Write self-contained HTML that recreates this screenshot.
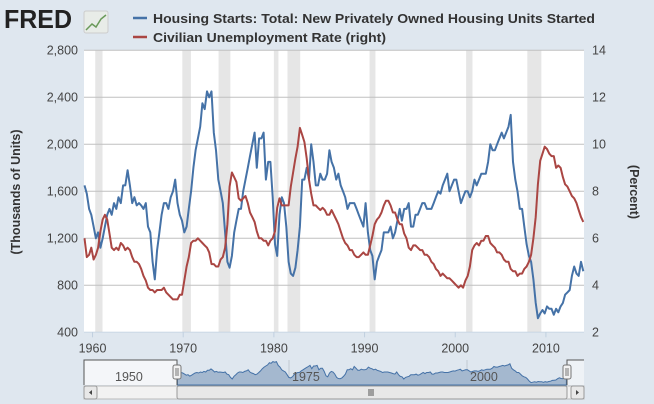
<!DOCTYPE html>
<html><head><meta charset="utf-8"><style>
body{margin:0;background:#dfe7ef;}
svg{display:block;font-family:"Liberation Sans",sans-serif;}
</style></head><body>
<svg id="c" width="654" height="404" viewBox="0 0 654 404">
<rect x="0" y="0" width="654" height="404" fill="#dfe7ef"/>
<g>
<text x="4" y="28" font-size="26" font-weight="bold" fill="#222" textLength="68" lengthAdjust="spacingAndGlyphs">FRED</text>
<rect x="84" y="11" width="24" height="22" rx="2" fill="#e8ece8" stroke="#ccc"/>
<polyline points="86,30 92,24 96,27 101,19 106,15" fill="none" stroke="#6a9a5a" stroke-width="1.5"/>
</g>
<g>
<g><line x1="133" y1="18" x2="147" y2="18" stroke="#4572a7" stroke-width="2.5"/><text x="153" y="23" font-size="13" font-weight="bold" fill="#333" textLength="442" lengthAdjust="spacingAndGlyphs">Housing Starts: Total: New Privately Owned Housing Units Started</text></g>
<g><line x1="133" y1="37" x2="147" y2="37" stroke="#aa4643" stroke-width="2.5"/><text x="153" y="42" font-size="13" font-weight="bold" fill="#333" textLength="233" lengthAdjust="spacingAndGlyphs">Civilian Unemployment Rate (right)</text></g>
</g>
<rect x="84" y="50" width="500" height="283" fill="#fff"/>
<g id="rec"></g>
<g id="grid"></g>
<g id="series"></g>
<g id="axes"></g>
<text transform="translate(20,192) rotate(-90)" text-anchor="middle" font-size="12.5" font-weight="bold" fill="#333">(Thousands of Units)</text>
<text transform="translate(630,192) rotate(90)" text-anchor="middle" font-size="12.5" font-weight="bold" fill="#333">(Percent)</text>
<g id="nav"></g>
</svg>
<script>
const startYear = 1959;
const housingStarts = [1650,1580,1450,1400, 1300,1200,1250,1120, 1200,1300,1400,1450, 1400,1500,1450,1550, 1500,1650,1650,1780, 1650,1500,1550,1480, 1500,1480,1450,1500, 1300,1250,1000,850, 1100,1250,1400,1500, 1500,1450,1550,1600, 1700,1500,1400,1350, 1250,1300,1450,1600, 1800,1950,2050,2150, 2350,2300,2450,2400, 2450,2100,1950,1700, 1600,1500,1250,1000, 950,1050,1250,1350, 1450,1450,1600,1700, 1800,1900,2000,2100, 1800,2050,2050,2100, 1700,1850,1850,1550, 1150,1050,1400,1550, 1500,1300,1000,900, 880,950,1100,1300, 1700,1700,1800,1700, 2000,1850,1650,1650, 1750,1700,1700,1750, 1950,1850,1800,1700, 1750,1650,1600,1550, 1450,1500,1500,1500, 1450,1400,1350,1300, 1500,1250,1100,1050, 850,1000,1050,1100, 1250,1250,1250,1300, 1200,1250,1350,1450, 1350,1450,1450,1500, 1300,1300,1400,1400, 1450,1500,1500,1450, 1450,1450,1500,1550, 1600,1580,1650,1700, 1750,1600,1650,1700, 1700,1600,1500,1550, 1600,1600,1550,1600, 1700,1650,1700,1750, 1750,1750,1850,2000, 1950,1950,2000,2050, 2100,2050,2100,2150, 2250,1850,1700,1600, 1450,1450,1300,1150, 1050,1000,850,650, 520,560,590,560, 620,600,600,550, 600,570,620,650, 720,740,760,880, 960,900,880,1000, 920];
const unemployment = [6.0,5.2,5.3,5.6, 5.1,5.3,5.6,6.3, 6.8,7.0,6.8,6.2, 5.6,5.5,5.6,5.5, 5.8,5.7,5.5,5.6, 5.5,5.2,5.0,5.0, 4.9,4.7,4.4,4.2, 3.9,3.8,3.8,3.7, 3.8,3.8,3.8,3.9, 3.7,3.6,3.5,3.4, 3.4,3.4,3.6,3.6, 4.2,4.8,5.2,5.8, 5.9,5.9,6.0,5.9, 5.8,5.7,5.6,5.4, 4.9,4.9,4.8,4.8, 5.1,5.2,5.6,6.6, 8.2,8.8,8.6,8.4, 7.7,7.6,7.7,7.8, 7.5,7.1,6.9,6.7, 6.3,6.0,6.0,5.9, 5.9,5.7,5.9,6.0, 6.3,7.3,7.7,7.4, 7.4,7.4,7.4,8.2, 8.8,9.4,9.9,10.7, 10.4,10.1,9.4,8.5, 7.9,7.4,7.4,7.3, 7.2,7.3,7.2,7.0, 7.0,7.2,7.0,6.8, 6.6,6.3,6.0,5.8, 5.7,5.5,5.5,5.3, 5.2,5.2,5.3,5.4, 5.3,5.3,5.7,6.1, 6.6,6.8,6.9,7.1, 7.4,7.6,7.6,7.4, 7.1,7.1,6.8,6.6, 6.6,6.2,6.0,5.6, 5.5,5.7,5.7,5.6, 5.5,5.5,5.3,5.3, 5.2,5.0,4.9,4.7, 4.6,4.4,4.5,4.4, 4.3,4.3,4.2,4.1, 4.0,3.9,4.0,3.9, 4.2,4.4,4.8,5.5, 5.7,5.8,5.7,5.9, 5.9,6.1,6.1,5.8, 5.7,5.6,5.4,5.4, 5.3,5.1,5.0,5.0, 4.7,4.6,4.6,4.4, 4.5,4.5,4.7,4.8, 5.0,5.3,6.0,6.9, 8.3,9.3,9.6,9.9, 9.8,9.6,9.5,9.5, 9.0,9.1,9.0,8.6, 8.3,8.2,8.0,7.8, 7.7,7.5,7.2,6.9, 6.7];
const recessionStart = [1960.3,1969.9,1973.9,1980.0,1981.5,1990.55,2001.2,2007.95];
const recessionEnd = [1961.1,1970.85,1975.2,1980.5,1982.9,1991.2,2001.9,2009.5];
const leftTicks = [400,800,1200,1600,2000,2400,2800];
const leftTickLabels = ["400","800","1,200","1,600","2,000","2,400","2,800"];
const rightTicks = [2,4,6,8,10,12,14];
const xTicks = [1960,1970,1980,1990,2000,2010];
const navLabels = [1950,1975,2000];

const NS="http://www.w3.org/2000/svg";
function mk(tag,attrs,parent){const e=document.createElementNS(NS,tag);for(const k in attrs)e.setAttribute(k,attrs[k]);parent.appendChild(e);return e;}
const X0=84,X1=584,T0=1959.06,T1=2014.2;
const xs=t=>X0+(t-T0)/(T1-T0)*(X1-X0);
const YB=332.3,YT=50.3;
const yl=v=>YB-(v-400)/2400*(YB-YT);
const yr=v=>YB-(v-2)/12*(YB-YT);
const tOf=i=>startYear+i*0.25+0.12;

const rec=document.getElementById('rec');
for(let i=0;i<recessionStart.length;i++){
  const r=mk('rect',{x:xs(recessionStart[i]),y:YT,width:xs(recessionEnd[i])-xs(recessionStart[i]),height:YB-YT,fill:'#e6e6e6'},rec);
  
  
}
const grid=document.getElementById('grid'),axes=document.getElementById('axes');
leftTicks.forEach((v,i)=>{
  if(i>0){const g=mk('line',{x1:X0,x2:X1,y1:yl(v),y2:yl(v),stroke:'#c0c0c0','stroke-width':1},grid);
  
  }
  const t=mk('text',{x:78,y:yl(v)+4,'text-anchor':'end','font-size':12.5,fill:'#444'},axes);t.textContent=leftTickLabels[i];
  
  
});
rightTicks.forEach(v=>{
  const t=mk('text',{x:592,y:yr(v)+4,'font-size':12.5,fill:'#444'},axes);t.textContent=v;
  
  
});
const ax=mk('line',{x1:X0,x2:X1,y1:YB,y2:YB,stroke:'#c0d0e0','stroke-width':1},axes);


xTicks.forEach(v=>{
  const l=mk('line',{x1:xs(v),x2:xs(v),y1:YB,y2:YB+5,stroke:'#c0d0e0'},axes);
  
  
  const t=mk('text',{x:xs(v),y:YB+20,'text-anchor':'middle','font-size':12.5,fill:'#444'},axes);t.textContent=v;
  
  
});
const ser=document.getElementById('series');
const p1=mk('polyline',{points:housingStarts.map((v,i)=>xs(tOf(i)).toFixed(1)+','+yl(v).toFixed(1)).join(' '),fill:'none',stroke:'#4572a7','stroke-width':2,'stroke-linejoin':'round'},ser);


const p2=mk('polyline',{points:unemployment.map((v,i)=>xs(tOf(i)).toFixed(1)+','+yr(v).toFixed(1)).join(' '),fill:'none',stroke:'#aa4643','stroke-width':2,'stroke-linejoin':'round'},ser);



// navigator
const nav=document.getElementById('nav');
const NX0=177,NX1=567,NT=360,NB=385;
const nx=t=>NX0+(t-T0)/(T1-T0)*(NX1-NX0);
const ny=v=>NB-(v-300)/2300*(NB-NT);
mk('rect',{x:84,y:NT,width:500,height:NB-NT,fill:'#dfe7ef'},nav);
mk('rect',{x:84,y:NT,width:NX0-84,height:NB-NT,fill:'#f4f6f9'},nav);
[289,467].forEach(x=>mk('line',{x1:x,x2:x,y1:NT,y2:NB,stroke:'#c0c8d0'},nav));
let pts=housingStarts.map((v,i)=>nx(tOf(i)).toFixed(1)+','+ny(v).toFixed(1));
const na=mk('polygon',{points:nx(tOf(0)).toFixed(1)+','+NB+' '+pts.join(' ')+' '+nx(tOf(housingStarts.length-1)).toFixed(1)+','+NB,fill:'#a4b8cf',stroke:'#4572a7','stroke-width':1},nav);


mk('rect',{x:NX1,y:NT,width:584-NX1,height:NB-NT,fill:'#f4f6f9','fill-opacity':0.7},nav);
mk('polyline',{points:`84,${NB} 84,${NT} ${NX0},${NT} ${NX0},${NB}`,fill:'none',stroke:'#555'},nav);
mk('polyline',{points:`${NX1},${NB} ${NX1},${NT} 584,${NT}`,fill:'none',stroke:'#555'},nav);
const navPos=[112,289,467];
navLabels.forEach((v,i)=>{const t=mk('text',{x:navPos[i]+3,y:381,'font-size':12.5,fill:'#555'},nav);t.textContent=v;
  
  });
[NX0,NX1].forEach(x=>{const h=mk('rect',{x:x-4,y:365,width:8,height:14,rx:2,fill:'#f2f2f2',stroke:'#777'},nav);
  
  
  mk('line',{x1:x-1,x2:x-1,y1:368,y2:376,stroke:'#777'},nav);mk('line',{x1:x+1,x2:x+1,y1:368,y2:376,stroke:'#777'},nav);});
const sb=mk('rect',{x:84,y:386,width:500,height:13,fill:'#f2f2f2',stroke:'#bbb'},nav);


const th=mk('rect',{x:NX0,y:386,width:NX1-NX0,height:13,rx:2,fill:'#e8e8e8',stroke:'#999'},nav);


[-2,0,2].forEach(d=>mk('line',{x1:371+d,x2:371+d,y1:389,y2:396,stroke:'#555'},nav));
const bl=mk('rect',{x:84,y:386,width:13,height:13,rx:2,fill:'#e8e8e8',stroke:'#999'},nav);


mk('path',{d:'M92,390 L89,392.5 L92,395 Z',fill:'#444'},nav);
const br=mk('rect',{x:571,y:386,width:13,height:13,rx:2,fill:'#e8e8e8',stroke:'#999'},nav);


mk('path',{d:'M576,390 L579,392.5 L576,395 Z',fill:'#444'},nav);
</script>
</body></html>
